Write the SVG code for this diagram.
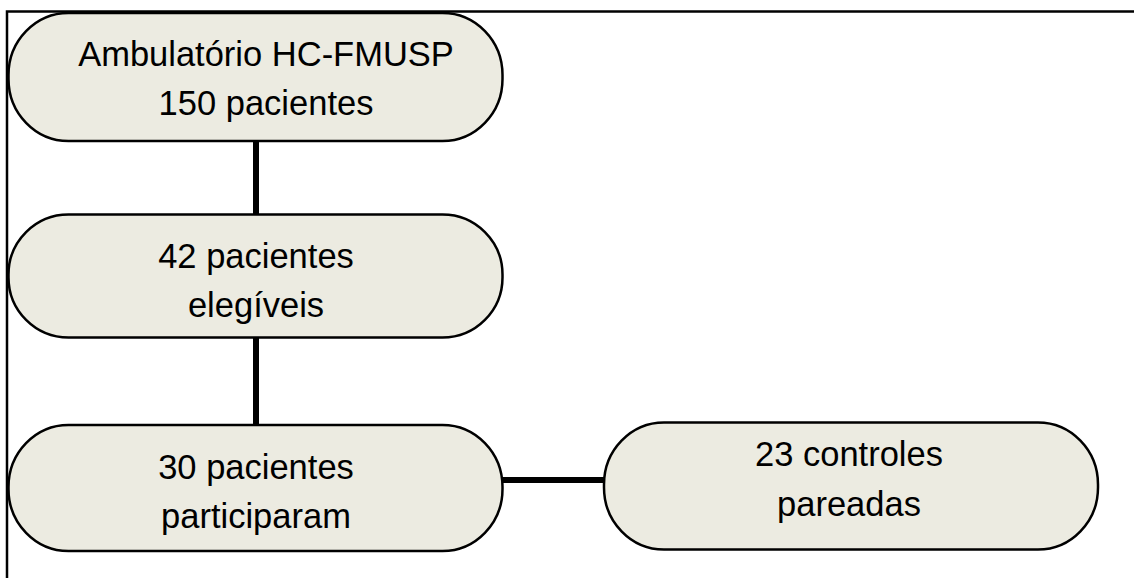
<svg xmlns="http://www.w3.org/2000/svg" width="1134" height="578" viewBox="0 0 1134 578">
  <style>
    .node rect { fill: #ecebe1; stroke: #000; stroke-width: 2.5; }
    .node text { font-family: "Liberation Sans", Arial, sans-serif; font-size: 34.5px; fill: #000; text-anchor: middle; }
    .frame { stroke: #000; stroke-width: 2.5; fill: none; }
    .links line { stroke: #000; stroke-width: 6; }
  </style>
  <rect width="1134" height="578" fill="#fff"/>
  <!-- page frame: top rule and left rule -->
  <path class="frame" d="M7 578 V11.5 H1134"/>
  <g class="links">
    <line x1="256" y1="141" x2="256" y2="214"/>
    <line x1="256" y1="338" x2="256" y2="425"/>
    <line x1="503" y1="480" x2="604" y2="480"/>
  </g>
  <g id="ambulatorio" class="node">
    <rect x="8.5" y="13" width="494" height="128" rx="60" ry="62"/>
    <text x="266" y="66">Ambulatório HC-FMUSP</text>
    <text x="266" y="115">150 pacientes</text>
  </g>
  <g id="elegiveis" class="node">
    <rect x="8.5" y="214.5" width="494" height="123" rx="60" ry="60"/>
    <text x="256" y="268">42 pacientes</text>
    <text x="256" y="317">elegíveis</text>
  </g>
  <g id="participaram" class="node">
    <rect x="8.5" y="425" width="494" height="126" rx="60" ry="62"/>
    <text x="256" y="479">30 pacientes</text>
    <text x="256" y="528">participaram</text>
  </g>
  <g id="controles" class="node">
    <rect x="604" y="422.5" width="494" height="127" rx="60" ry="62"/>
    <text x="849" y="466">23 controles</text>
    <text x="849" y="516">pareadas</text>
  </g>
</svg>
